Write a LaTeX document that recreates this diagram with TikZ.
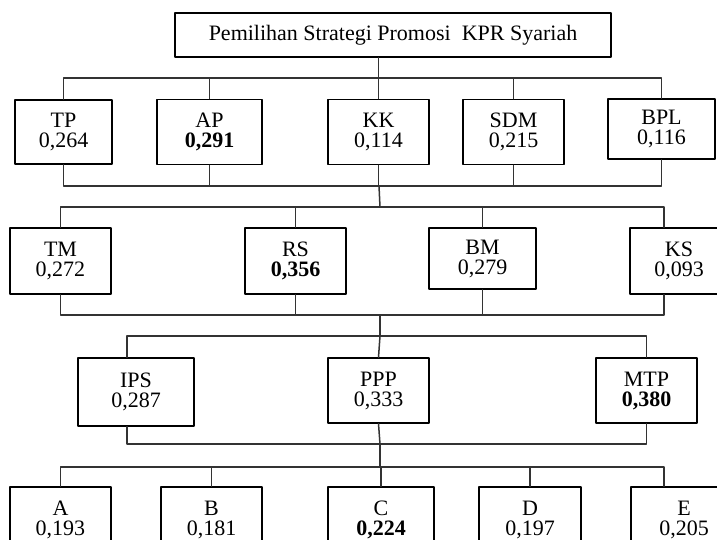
\documentclass[tikz,border=0pt]{standalone}
\usepackage{fontspec}
\setmainfont{Liberation Serif}

\begin{document}
\begin{tikzpicture}[x=0.5pt,y=-0.5pt,line cap=round,line join=round,
  box/.style={draw,line width=0.75pt,align=center,inner sep=0pt,
    font=\fontsize{11}{10}\selectfont},
  sz/.style 2 args={minimum width=#1*0.5pt,minimum height=#2*0.5pt},
  wire/.style={line width=0.75pt,draw=black!80}]
  \useasboundingbox (0,0) rectangle (717,540);
  \clip (0,0) rectangle (717,540);
  % goal
  \node[box,sz={436}{44}] (root) at (393,35) {Pemilihan Strategi Promosi\ \ KPR Syariah};
  % criteria
  \node[box,sz={97}{64}] (tp) at (63.5,132) {TP\\0,264};
  \node[box,sz={105}{65}] (ap) at (209.5,132) {AP\\\textbf{0,291}};
  \node[box,sz={101}{65}] (kk) at (378.5,132) {KK\\0,114};
  \node[box,sz={101}{65}] (sdm) at (513.5,132) {SDM\\0,215};
  \node[box,sz={107}{60}] (bpl) at (661.5,129) {BPL\\0,116};
  % sub criteria
  \node[box,sz={101}{66}] (tm) at (60.5,261) {TM\\0,272};
  \node[box,sz={101}{66}] (rs) at (295.5,261) {RS\\\textbf{0,356}};
  \node[box,sz={107}{61}] (bm) at (482.5,258.5) {BM\\0,279};
  \node[box,sz={98}{66}] (ks) at (679,261) {KS\\0,093};
  % actors
  \node[box,sz={116}{68}] (ips) at (136,392) {IPS\\0,287};
  \node[box,sz={101}{65}] (ppp) at (378.5,390.5) {PPP\\0,333};
  \node[box,sz={101}{65}] (mtp) at (646.5,390.5) {MTP\\\textbf{0,380}};
  % alternatives
  \node[box,sz={101}{66}] (a) at (60.5,520) {A\\0,193};
  \node[box,sz={101}{66}] (b) at (211.5,520) {B\\0,181};
  \node[box,sz={106}{66}] (c) at (381,520) {C\\\textbf{0,224}};
  \node[box,sz={102}{66}] (d) at (530,520) {D\\0,197};
  \node[box,sz={106}{66}] (e) at (684,520) {E\\0,205};
  % bus points
  \coordinate (busA) at (379,78);
  \coordinate (busB) at (379,186);
  \coordinate (busC) at (380,207);
  \coordinate (busD) at (380,315);
  \coordinate (busE) at (380,336);
  \coordinate (busF) at (380,444);
  \coordinate (busG) at (380,467);
  % connectors
  \draw[wire] (root.south -| kk) -- (kk.north);
  \draw[wire] (tp.north) |- (busA) -| (bpl.north);
  \foreach \n in {ap,sdm} \draw[wire] (\n.north) -- (\n.north |- busA);
  \draw[wire] (tp.south) |- (busB) -| (bpl.south);
  \foreach \n in {ap,kk,sdm} \draw[wire] (\n.south) -- (\n.south |- busB);
  \draw[wire] (busB) -- (busC);
  \draw[wire] (tm.north) |- (busC) -| ([xshift=-7.5pt]ks.north);
  \foreach \n in {rs,bm} \draw[wire] (\n.north) -- (\n.north |- busC);
  \draw[wire] (tm.south) |- (busD) -| ([xshift=-7.5pt]ks.south);
  \foreach \n in {rs,bm} \draw[wire] (\n.south) -- (\n.south |- busD);
  \draw[wire] (busD) -- (busE);
  \draw[wire] ([xshift=-4.5pt]ips.north) |- (busE) -| (mtp.north);
  \draw[wire] (ppp.north) -- (busE);
  \draw[wire] ([xshift=-4.5pt]ips.south) |- (busF) -| (mtp.south);
  \draw[wire] (ppp.south) -- (busF);
  \draw[wire] (busF) -- (busG);
  \draw[wire] (a.north) |- (busG) -| ([xshift=-10pt]e.north);
  \foreach \n in {b,c,d} \draw[wire] (\n.north) -- (\n.north |- busG);
\end{tikzpicture}
\end{document}
